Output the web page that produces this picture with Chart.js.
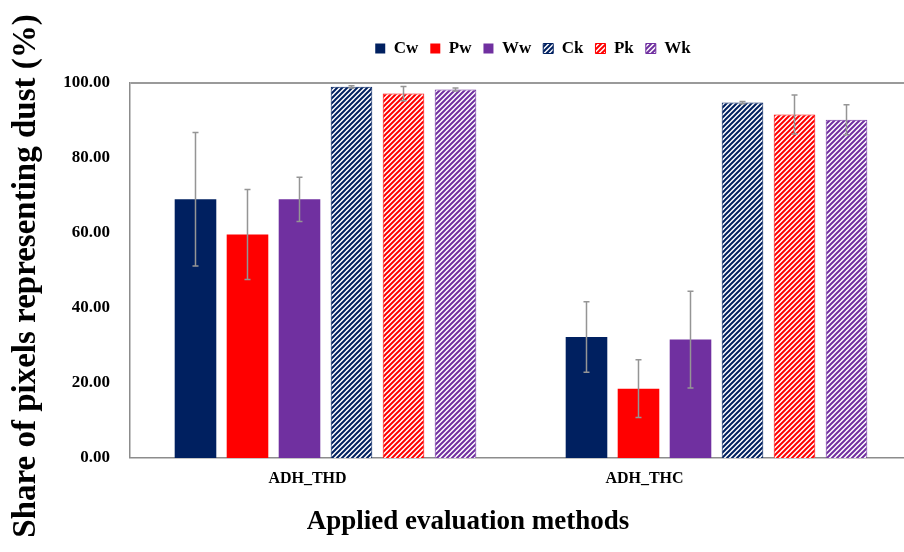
<!DOCTYPE html>
<html>
<head>
<meta charset="utf-8">
<script src="https://cdn.jsdelivr.net/npm/chart.js@4.4.1/dist/chart.umd.min.js"></script>
<style>
  html, body { margin: 0; padding: 0; background: #fff; overflow: hidden; }
  canvas { display: block; }
</style>
</head>
<body>
<canvas id="chart" width="912" height="552" style="width:912px;height:552px"></canvas>
<script>
// Evaluation methods on the category axis
const categories = ['ADH_THD', 'ADH_THC'];

// Share of dust pixels (%) and standard deviations per series
const cwValues = [69.0, 32.3];
const cwErrors = [17.8, 9.4];
const pwValues = [59.6, 18.5];
const pwErrors = [12.0, 7.7];
const wwValues = [69.0, 31.6];
const wwErrors = [5.9, 12.9];
const ckValues = [99.0, 94.8];
const ckErrors = [0.3, 0.3];
const pkValues = [97.2, 91.6];
const pkErrors = [1.9, 5.2];
const wkValues = [98.3, 90.2];
const wkErrors = [0.4, 4.0];

// Y-axis tick values
const yTicks = [0, 20, 40, 60, 80, 100];

const NAVY = '#002060';
const RED = '#ff0000';
const PURPLE = '#7030a0';
const SERIF = '"Liberation Serif", "Times New Roman", serif';

// Diagonal hatch fill ("///") in a given colour on white
function hatch(color) {
  const p = 5;
  const c = document.createElement('canvas');
  c.width = p; c.height = p;
  const g = c.getContext('2d');
  g.fillStyle = '#fff';
  g.fillRect(0, 0, p, p);
  g.strokeStyle = color;
  g.lineWidth = 2;
  g.beginPath();
  g.moveTo(0, p); g.lineTo(p, 0);
  g.moveTo(-1, 1); g.lineTo(1, -1);
  g.moveTo(p - 1, p + 1); g.lineTo(p + 1, p - 1);
  g.stroke();
  return g.createPattern(c, 'repeat');
}

function solid(label, color, data, errors) {
  return { label, data, errors, backgroundColor: color, borderColor: color, borderWidth: 0 };
}
function hatched(label, color, data, errors) {
  return { label, data, errors, backgroundColor: hatch(color), borderColor: color, borderWidth: 1 };
}

// Error bars drawn from each bar's value +/- its deviation
const errorBars = {
  id: 'errorBars',
  afterDatasetsDraw(chart, args, opts) {
    const ctx = chart.ctx;
    const y = chart.scales.y;
    chart.data.datasets.forEach((ds, i) => {
      const meta = chart.getDatasetMeta(i);
      meta.data.forEach((bar, j) => {
        const v = ds.data[j], e = ds.errors[j];
        const top = y.getPixelForValue(v + e);
        const bot = y.getPixelForValue(v - e);
        ctx.save();
        ctx.strokeStyle = opts.color;
        ctx.lineWidth = opts.width;
        ctx.beginPath();
        ctx.moveTo(bar.x, top); ctx.lineTo(bar.x, bot);
        ctx.moveTo(bar.x - opts.cap, top); ctx.lineTo(bar.x + opts.cap, top);
        ctx.moveTo(bar.x - opts.cap, bot); ctx.lineTo(bar.x + opts.cap, bot);
        ctx.stroke();
        ctx.restore();
      });
    });
  }
};

// Legend block: fixed height above the plot, centred over the bars
const legendBox = {
  id: 'legendBox',
  beforeUpdate(chart, args, opts) {
    const legend = chart.legend;
    if (legend && !legend._fixedFit) {
      const fit = legend.fit;
      legend.fit = function () { fit.call(this); this.height = opts.height; };
      legend._fixedFit = true;
    }
  },
  afterLayout(chart, args, opts) {
    const l = chart.legend;
    const shift = opts.centerX - (l.left + l.right) / 2;
    l.left += shift;
    l.right += shift;
  }
};

// Category labels and axis titles
const axisText = {
  id: 'axisText',
  afterDraw(chart, args, o) {
    const ctx = chart.ctx;
    const xs = chart.scales.x;
    ctx.save();
    ctx.fillStyle = '#000';
    ctx.textAlign = 'center';
    ctx.textBaseline = 'middle';
    ctx.font = 'bold 16px ' + SERIF;
    categories.forEach((c, i) => {
      ctx.fillText(c, xs.getPixelForValue(i) + o.labelShift[i], o.labelY);
    });
    ctx.textBaseline = 'alphabetic';
    ctx.font = 'bold 27px ' + SERIF;
    ctx.fillText(o.xTitle, o.xTitleX, o.xTitleBaseline);
    ctx.translate(o.yTitleBaseline, chart.height / 2);
    ctx.rotate(-Math.PI / 2);
    ctx.font = 'bold 33px ' + SERIF;
    ctx.fillText(o.yTitle, 0, 0);
    ctx.restore();
  }
};

new Chart(document.getElementById('chart'), {
  type: 'bar',
  data: {
    labels: categories,
    datasets: [
      solid('Cw', NAVY, cwValues, cwErrors),
      solid('Pw', RED, pwValues, pwErrors),
      solid('Ww', PURPLE, wwValues, wwErrors),
      hatched('Ck', NAVY, ckValues, ckErrors),
      hatched('Pk', RED, pkValues, pkErrors),
      hatched('Wk', PURPLE, wkValues, wkErrors)
    ]
  },
  options: {
    responsive: false,
    animation: false,
    events: [],
    layout: { padding: { top: 28, left: 0, right: 0, bottom: 0 } },
    datasets: {
      bar: { categoryPercentage: 0.798, barPercentage: 0.8 }
    },
    scales: {
      x: {
        grid: { display: false, drawTicks: false },
        border: { display: true, color: '#8c8c8c', width: 1.5 },
        ticks: { display: false },
        afterFit(scale) { scale.height = 94; }
      },
      y: {
        min: 0,
        max: 100,
        afterBuildTicks(scale) { scale.ticks = yTicks.map(v => ({ value: v })); },
        grid: {
          drawTicks: false,
          color: ctx => (ctx.tick && ctx.tick.value === 100 ? '#9a9a9a' : 'rgba(0,0,0,0)'),
          lineWidth: ctx => (ctx.tick && ctx.tick.value === 100 ? 2 : 0)
        },
        border: { display: true, color: '#8c8c8c', width: 1.5 },
        ticks: {
          padding: 20,
          color: '#000',
          font: { family: SERIF, size: 17, weight: 'bold' },
          callback: v => Number(v).toFixed(2)
        },
        afterFit(scale) { scale.width = 130; }
      }
    },
    plugins: {
      tooltip: { enabled: false },
      legend: {
        position: 'top',
        labels: {
          boxWidth: 10,
          boxHeight: 10,
          padding: 12,
          color: '#000',
          font: { family: SERIF, size: 17, weight: 'bold' }
        }
      },
      legendBox: { height: 55, centerX: 533 },
      errorBars: { color: '#959595', width: 1.5, cap: 3 },
      axisText: {
        labelShift: [-18, -72],
        labelY: 479,
        xTitle: 'Applied evaluation methods',
        xTitleX: 468,
        xTitleBaseline: 529,
        yTitle: 'Share of pixels representing dust (%)',
        yTitleBaseline: 35
      }
    }
  },
  plugins: [legendBox, errorBars, axisText]
});
</script>
</body>
</html>
